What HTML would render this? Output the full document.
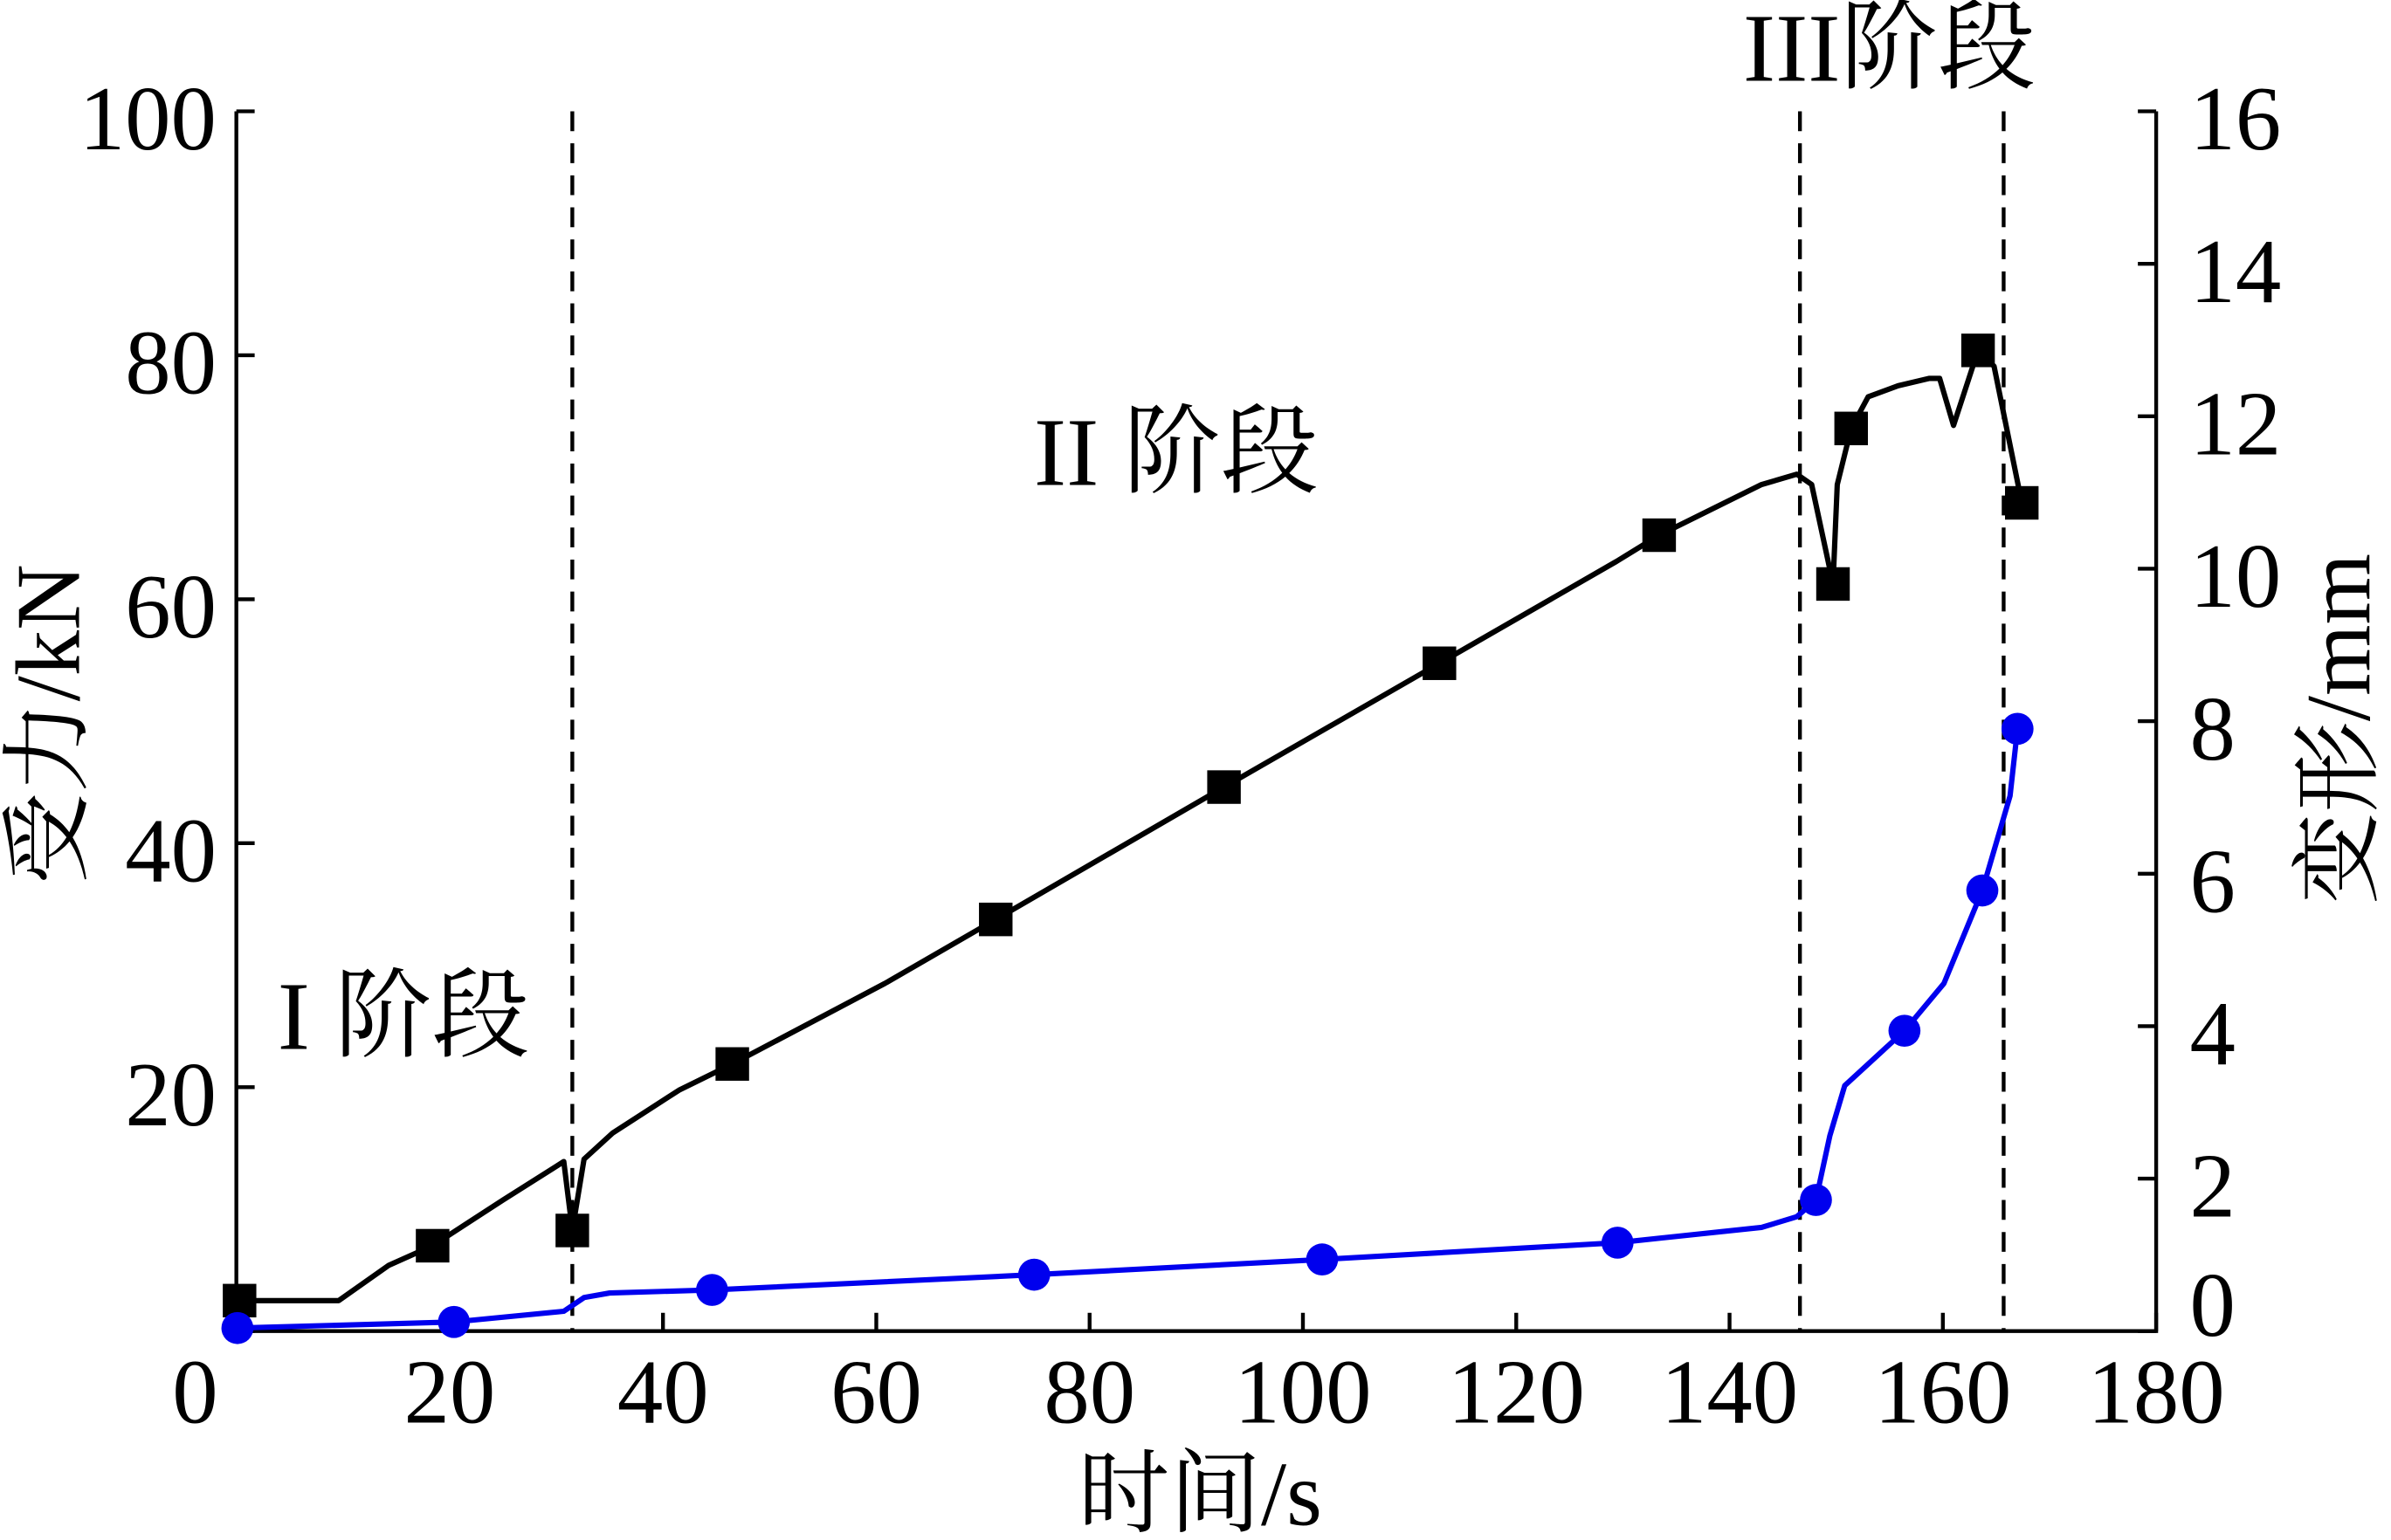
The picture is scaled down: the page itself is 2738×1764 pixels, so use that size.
<!DOCTYPE html>
<html><head><meta charset="utf-8"><style>
html,body{margin:0;padding:0;background:#fff;}
svg{display:block;}
text{font-family:"Liberation Serif","Noto Serif CJK SC",serif;fill:#000;}
</style></head><body>
<svg id="chart" width="2738" height="1764" viewBox="0 0 1568 1010" preserveAspectRatio="none" xmlns="http://www.w3.org/2000/svg">
<g id="axes"></g>
<g id="marks"></g>
<text x="38" y="475" font-size="60" text-anchor="middle" dominant-baseline="middle" transform="rotate(-90 38 475)">受力/kN</text>
<text x="1540" y="478" font-size="60" text-anchor="middle" dominant-baseline="middle" transform="rotate(-90 1540 478)">变形/mm</text>
<text x="787" y="1000" font-size="60" text-anchor="middle">时间/s</text>
<text x="182" y="688" font-size="64">I 阶段</text>
<text x="678" y="318" font-size="64">II 阶段</text>
<text x="1143" y="53" font-size="64">III阶段</text>
</svg>
<script>
const xTicks=[0,20,40,60,80,100,120,140,160,180];
const forceTicks=[0,20,40,60,80,100];
const defTicks=[0,2,4,6,8,10,12,14,16];
const stageBounds=[31.5,146.6,165.7];
const forceT=[0.3,9.6,14.3,18.4,25,30.7,31.5,32.6,35.3,41.5,46.5,60.8,71.2,92.6,112.8,129.4,133.4,143,146.3,147.7,149.7,150.1,151.4,153,155.8,158.7,159.7,161,163.3,164.8,167.4];
const forceV=[2.5,2.5,5.4,7,10.75,13.9,8.25,14.1,16.25,19.75,21.9,28.5,33.75,44.6,54.75,63.1,65.25,69.4,70.25,69.4,61.25,69.4,74,76.6,77.5,78.1,78.1,74.25,80.4,79.1,67.9];
const forceMarkIdx=[0,3,6,10,12,13,14,16,20,22,28,30];
const defT=[0.1,20.4,30.7,32.6,35,44.6,74.8,101.8,129.5,143,146.3,148.1,149.4,150.8,156.4,160.1,163.7,166.3,167];
const defV=[0.04,0.12,0.26,0.44,0.5,0.54,0.74,0.94,1.16,1.36,1.5,1.72,2.56,3.22,3.94,4.56,5.78,7.02,7.9];
const defMarkIdx=[0,1,5,6,7,8,11,14,16,18];
const X0=155,X1=1414,Y0=873,Y1=73;
const sx=t=>X0+(t-0)/180*(X1-X0);
const syF=v=>Y0-v/100*(Y0-Y1);
const syD=v=>Y0-v/16*(Y0-Y1);
const NS="http://www.w3.org/2000/svg";
function mk(tag,attrs,parent){const e=document.createElementNS(NS,tag);for(const k in attrs)e.setAttribute(k,attrs[k]);parent.appendChild(e);return e;}
const ax=document.getElementById('axes'),mg=document.getElementById('marks');
let e;
e=mk('polyline',{points:`${X0},${Y1} ${X0},${Y0} ${X1},${Y0} ${X1},${Y1}`,fill:'none',stroke:'#000','stroke-width':2.5},ax);


xTicks.forEach(t=>{
  e=mk('line',{x1:sx(t),x2:sx(t),y1:Y0,y2:Y0-12,stroke:'#000','stroke-width':2.5},ax);
  
  
  e=mk('text',{x:t===0?128:sx(t),y:933,'font-size':60,'text-anchor':'middle'},ax);e.textContent=t;
  
  
});
forceTicks.forEach(v=>{
  e=mk('line',{x1:X0,x2:X0+12,y1:syF(v),y2:syF(v),stroke:'#000','stroke-width':2.5},ax);
  
  
  if(v>0){e=mk('text',{x:142,y:syF(v)+25,'font-size':60,'text-anchor':'end'},ax);e.textContent=v;
  
  }
});
defTicks.forEach(v=>{
  e=mk('line',{x1:X1,x2:X1-12,y1:syD(v),y2:syD(v),stroke:'#000','stroke-width':2.5},ax);
  
  
  e=mk('text',{x:1436,y:syD(v)+(v===0?3:25),'font-size':60},ax);e.textContent=v;
  
  
});
stageBounds.forEach(t=>{
  e=mk('line',{x1:sx(t),x2:sx(t),y1:Y1,y2:Y0,stroke:'#000','stroke-width':2.5,'stroke-dasharray':'13,8'},ax);
  
  
});
e=mk('polyline',{points:forceT.map((t,i)=>sx(t)+','+syF(forceV[i])).join(' '),fill:'none',stroke:'#000','stroke-width':3.5,'stroke-linejoin':'round'},mg);


forceMarkIdx.forEach(i=>{
  e=mk('rect',{x:sx(forceT[i])-11,y:syF(forceV[i])-11,width:22,height:22,fill:'#000'},mg);
  
  
});
e=mk('polyline',{points:defT.map((t,i)=>sx(t)+','+syD(defV[i])).join(' '),fill:'none',stroke:'#0000ee','stroke-width':3.5,'stroke-linejoin':'round'},mg);


defMarkIdx.forEach(i=>{
  e=mk('circle',{cx:sx(defT[i]),cy:syD(defV[i]),r:10.5,fill:'#0000ee'},mg);
  
  
});
</script>
</body></html>
